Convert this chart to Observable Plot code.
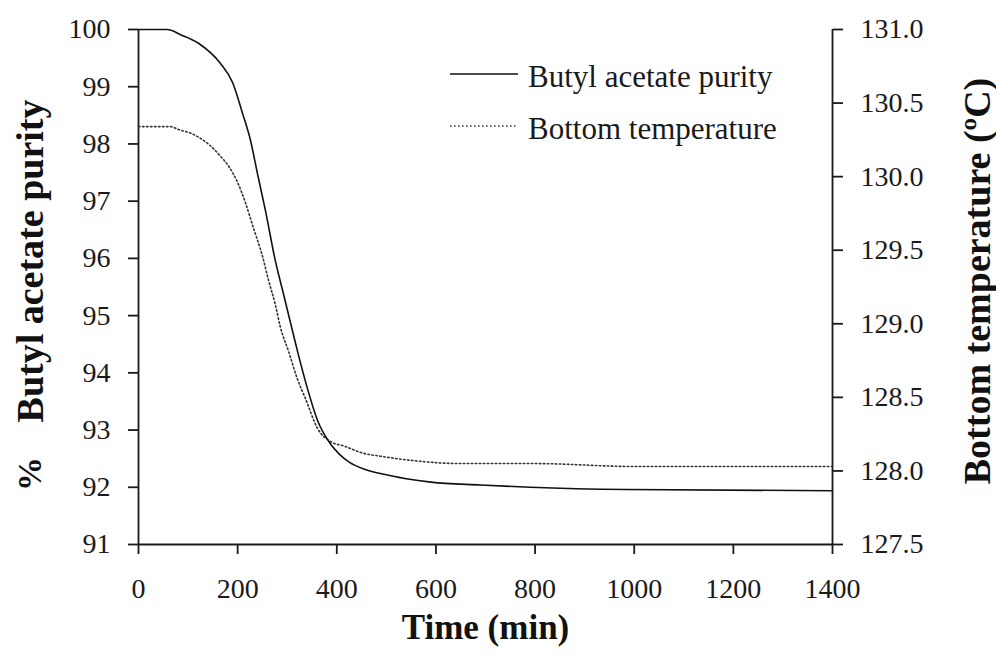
<!DOCTYPE html>
<html>
<head>
<meta charset="utf-8">
<script src="https://cdn.jsdelivr.net/npm/d3@7"></script>
<script src="https://cdn.jsdelivr.net/npm/@observablehq/plot@0.6"></script>
<style>
  body { margin: 0; background: #fff; }
  #chart svg { display: block; }
</style>
</head>
<body>
<div id="chart"></div>
<script>
// Butyl acetate purity (%) over time (min)
const purityTime = [0, 58, 85, 121, 165, 190, 210, 226, 240, 256, 276, 293, 311, 323, 341, 361, 387, 405, 425, 454, 488, 540, 590, 690, 790, 985, 1400];
const purity     = [100, 100, 99.91, 99.76, 99.41, 99.07, 98.53, 98.06, 97.48, 96.84, 95.96, 95.36, 94.72, 94.30, 93.72, 93.17, 92.76, 92.58, 92.44, 92.32, 92.24, 92.15, 92.09, 92.04, 92.00, 91.96, 91.94];

// Bottom temperature (°C) over time (min)
const tempTime    = [0, 64, 81, 109, 125, 145, 165, 184, 200, 216, 232, 250, 262, 276, 286, 303, 320, 337, 361, 387, 414, 454, 488, 555, 650, 800, 1000, 1400];
const temperature = [130.34, 130.34, 130.32, 130.29, 130.26, 130.21, 130.14, 130.06, 129.96, 129.82, 129.65, 129.46, 129.30, 129.13, 128.98, 128.81, 128.63, 128.49, 128.29, 128.20, 128.17, 128.12, 128.10, 128.07, 128.05, 128.05, 128.03, 128.03];

// Axis ticks
const timeTicks   = [0, 200, 400, 600, 800, 1000, 1200, 1400];
const purityTicks = [91, 92, 93, 94, 95, 96, 97, 98, 99, 100];
const tempTicks   = [127.5, 128.0, 128.5, 129.0, 129.5, 130.0, 130.5, 131.0];

const legendLabels = ["Butyl acetate purity", "Bottom temperature"];

const purityDomain = [91, 100];
const tempDomain = [127.5, 131.0];

// Temperature is drawn on the purity scale, mapped linearly between the two domains
const tempToLeft = t => purityDomain[0] + (t - tempDomain[0]) * (purityDomain[1] - purityDomain[0]) / (tempDomain[1] - tempDomain[0]);
const leftToTemp = v => tempDomain[0] + (v - purityDomain[0]) * (tempDomain[1] - tempDomain[0]) / (purityDomain[1] - purityDomain[0]);

const purityRows = purityTime.map((t, i) => ({t, v: purity[i]}));
const tempRows = tempTime.map((t, i) => ({t, v: tempToLeft(temperature[i])}));

const ink = "#1a1a1a";
const serif = "'Liberation Serif', 'Times New Roman', serif";
const dotted = "1.5,2.5";

const title = {fontWeight: "bold", fill: "#111", textAnchor: "middle", lineAnchor: "middle"};

const chart = Plot.plot({
  width: 996,
  height: 666,
  marginLeft: 138,
  marginRight: 164,
  marginTop: 29,
  marginBottom: 122,
  x: {domain: [0, 1400]},
  y: {domain: purityDomain},
  style: {fontFamily: serif, fontSize: "28px", color: ink, background: "#fff", overflow: "visible"},
  marks: [
    Plot.axisX(timeTicks, {tickSize: 10, tickPadding: 24, strokeWidth: 1.8, label: null, tickFormat: d => String(d)}),
    Plot.axisY(purityTicks, {anchor: "left", tickSize: 10, tickPadding: 18, strokeWidth: 1.8, label: null, tickFormat: d => String(d)}),
    Plot.axisY(tempTicks.map(tempToLeft), {
      anchor: "right", tickSize: 10, tickPadding: 18, strokeWidth: 1.8, label: null,
      tickFormat: d => leftToTemp(d).toFixed(1)
    }),
    Plot.ruleX([0, 1400], {stroke: ink, strokeWidth: 1.8}),
    Plot.ruleY([91], {stroke: ink, strokeWidth: 1.8}),
    Plot.line(tempRows, {x: "t", y: "v", stroke: "#333", strokeWidth: 1.6, strokeDasharray: dotted, curve: "monotone-x"}),
    Plot.line(purityRows, {x: "t", y: "v", stroke: "#111", strokeWidth: 1.6, curve: "monotone-x"}),
    // Axis titles
    Plot.text(["Butyl acetate purity"], {
      ...title, text: d => d, frameAnchor: "left", rotate: -90, dx: -108, dy: -26, fontSize: 38
    }),
    Plot.text(["%"], {
      ...title, text: d => d, frameAnchor: "left", rotate: -90, dx: -108, dy: 187, fontSize: 34
    }),
    Plot.text(["Bottom temperature (ºC)"], {
      ...title, text: d => d, frameAnchor: "right", rotate: -90, dx: 145, dy: -6, fontSize: 38
    }),
    Plot.text(["Time (min)"], {
      ...title, text: d => d, frameAnchor: "bottom", dy: 83, fontSize: 35
    })
  ]
});

document.getElementById("chart").appendChild(chart);

// Legend in the upper right of the plot area
const legend = d3.select(chart).append("g")
  .attr("font-family", serif)
  .attr("font-size", 31)
  .attr("fill", ink)
  .attr("text-anchor", "start");

const rowY = [74, 126];
legendLabels.forEach((label, i) => {
  const row = legend.append("g").attr("transform", `translate(450,${rowY[i]})`);
  row.append("line")
    .attr("x1", 0).attr("x2", 68).attr("y1", 0).attr("y2", 0)
    .attr("stroke", i === 0 ? "#111" : "#333")
    .attr("stroke-width", 1.6)
    .attr("stroke-dasharray", i === 0 ? null : dotted);
  row.append("text")
    .attr("x", 78).attr("y", 2)
    .attr("text-anchor", "start")
    .attr("dominant-baseline", "central")
    .text(label);
});
</script>
</body>
</html>
